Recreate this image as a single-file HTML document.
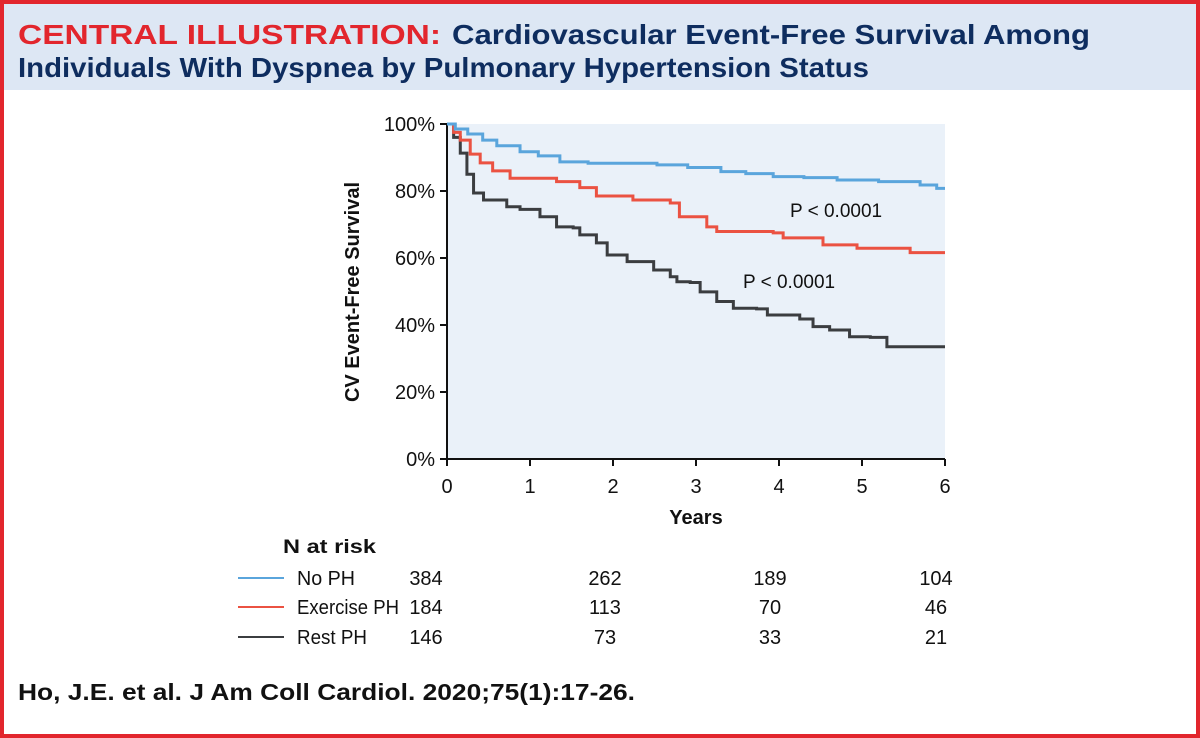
<!DOCTYPE html>
<html><head><meta charset="utf-8"><style>
html,body{margin:0;padding:0;background:#fff;}
svg{display:block;font-family:"Liberation Sans",sans-serif;}
</style></head><body>
<svg id="chart" width="1200" height="738" viewBox="0 0 1200 738">
<rect x="0" y="0" width="1200" height="738" fill="#fff"/>
<rect x="2" y="2" width="1196" height="88" fill="#dde7f4"/>
<rect x="2" y="2" width="1196" height="734" fill="none" stroke="#e2262d" stroke-width="4"/>
<text x="18" y="44" font-size="28" font-weight="bold" fill="#e2262d" textLength="423" lengthAdjust="spacingAndGlyphs">CENTRAL ILLUSTRATION:</text>
<text x="452" y="44" font-size="28" font-weight="bold" fill="#0e2d5f" textLength="638" lengthAdjust="spacingAndGlyphs">Cardiovascular Event-Free Survival Among</text>
<text x="18" y="77" font-size="28" font-weight="bold" fill="#0e2d5f" textLength="851" lengthAdjust="spacingAndGlyphs">Individuals With Dyspnea by Pulmonary Hypertension Status</text>
<rect x="447" y="124" width="498" height="335" fill="#eaf1f9"/>
<g id="axes"></g>
<g id="series"></g>
<text x="790" y="217" font-size="19" fill="#111">P &lt; 0.0001</text>
<text x="743" y="288" font-size="19" fill="#111">P &lt; 0.0001</text>
<text x="696" y="524" font-size="20" font-weight="bold" text-anchor="middle" fill="#111">Years</text>
<text transform="translate(359,292) rotate(-90)" font-size="20" font-weight="bold" text-anchor="middle" fill="#111">CV Event-Free Survival</text>
<text x="283" y="553" font-size="19" font-weight="bold" fill="#111" textLength="93" lengthAdjust="spacingAndGlyphs">N at risk</text>
<g id="risk"></g>
<text x="18" y="700" font-size="23" font-weight="bold" fill="#111" textLength="617" lengthAdjust="spacingAndGlyphs">Ho, J.E. et al. J Am Coll Cardiol. 2020;75(1):17-26.</text>
</svg>
<script>
const yTicks = [0, 20, 40, 60, 80, 100];
const xTicks = [0, 1, 2, 3, 4, 5, 6];
const seriesNames = ["No PH", "Exercise PH", "Rest PH"];
const seriesColors = ["#5aa5dc", "#eb5242", "#3b3d40"];
const noPhT = [0, 0.1, 0.25, 0.43, 0.6, 0.88, 1.1, 1.36, 1.7, 2.53, 2.9, 3.3, 3.6, 3.93, 4.3, 4.7, 5.2, 5.7, 5.9, 6];
const noPhS = [100, 98.5, 97, 95.2, 93.5, 91.7, 90.5, 88.7, 88.3, 87.8, 87, 85.8, 85.2, 84.3, 84, 83.3, 82.8, 81.8, 80.8, 80.8];
const exT = [0, 0.08, 0.16, 0.28, 0.4, 0.55, 0.76, 1.32, 1.6, 1.8, 2.24, 2.69, 2.8, 3.13, 3.25, 3.93, 4.05, 4.53, 4.94, 5.58, 6];
const exS = [100, 97.5, 95.2, 91, 88.4, 86, 83.8, 82.8, 81, 78.5, 77.3, 76.4, 72.3, 69.3, 67.9, 67.5, 66, 63.9, 62.9, 61.6, 61.6];
const restT = [0, 0.08, 0.16, 0.24, 0.32, 0.44, 0.72, 0.88, 1.12, 1.32, 1.52, 1.6, 1.8, 1.93, 2.17, 2.49, 2.69, 2.77, 2.93, 3.05, 3.25, 3.45, 3.73, 3.86, 4.25, 4.41, 4.61, 4.85, 5.1, 5.3, 6];
const restS = [100, 96, 91.3, 85, 79.4, 77.3, 75.3, 74.5, 72.3, 69.3, 69, 66.9, 64.5, 60.9, 58.9, 56.4, 54.4, 52.9, 52.7, 49.9, 47, 45, 44.8, 43, 41.8, 39.5, 38.5, 36.5, 36.3, 33.5, 33.5];
const riskYears = [0, 2, 4, 6];
const riskNoPh = [384, 262, 189, 104];
const riskEx = [184, 113, 70, 46];
const riskRest = [146, 73, 33, 21];

const NS = "http://www.w3.org/2000/svg";
const X0 = 447, X1 = 945, Y0 = 459, Y1 = 124;
function xs(t){ return X0 + (t / 6) * (X1 - X0); }
function ys(v){ return Y0 - (v / 100) * (Y0 - Y1); }
function mk(tag, attrs, parent){ const e = document.createElementNS(NS, tag); for (const k in attrs) e.setAttribute(k, attrs[k]); parent.appendChild(e); return e; }

const axes = document.getElementById("axes");
const yAxis = mk("line", {x1: X0, y1: Y1 - 1, x2: X0, y2: Y0 + 1, stroke: "#111", "stroke-width": 2}, axes);


const xAxis = mk("line", {x1: X0 - 1, y1: Y0, x2: X1, y2: Y0, stroke: "#111", "stroke-width": 2}, axes);


yTicks.forEach(v => {
  const tk = mk("line", {x1: X0 - 7, y1: ys(v), x2: X0, y2: ys(v), stroke: "#111", "stroke-width": 2}, axes);
  
  
  const lb = mk("text", {x: X0 - 12, y: ys(v) + 7, "font-size": 20, "text-anchor": "end", fill: "#111"}, axes);
  lb.textContent = v + "%";
  
  
});
xTicks.forEach(t => {
  const tk = mk("line", {x1: xs(t), y1: Y0, x2: xs(t), y2: Y0 + 7, stroke: "#111", "stroke-width": 2}, axes);
  
  
  const lb = mk("text", {x: xs(t), y: Y0 + 34, "font-size": 20, "text-anchor": "middle", fill: "#111"}, axes);
  lb.textContent = t;
  
  
});

const series = document.getElementById("series");
const allT = [noPhT, exT, restT], allS = [noPhS, exS, restS];
const lineNames = ["no-ph-curve", "exercise-ph-curve", "rest-ph-curve"];
for (let i = 2; i >= 0; i--) {
  const T = allT[i], S = allS[i];
  let d = "M" + xs(T[0]) + "," + ys(S[0]);
  for (let j = 1; j < T.length; j++) {
    d += " L" + xs(T[j]) + "," + ys(S[j - 1]) + " L" + xs(T[j]) + "," + ys(S[j]);
  }
  const p = mk("path", {d: d, fill: "none", stroke: seriesColors[i], "stroke-width": 3}, series);
  
  
}

const risk = document.getElementById("risk");
const riskRows = [riskNoPh, riskEx, riskRest];
const rowY = [585, 614, 644];
const numX = [426, 605, 770, 936];
const labelW = [58, 102, 70];
riskRows.forEach((row, i) => {
  const ln = mk("line", {x1: 238, y1: rowY[i] - 7, x2: 284, y2: rowY[i] - 7, stroke: seriesColors[i], "stroke-width": 2}, risk);
  
  
  const lb = mk("text", {x: 297, y: rowY[i], "font-size": 20, fill: "#111", textLength: labelW[i], lengthAdjust: "spacingAndGlyphs"}, risk);
  lb.textContent = seriesNames[i];
  
  
  row.forEach((n, k) => {
    const tx = mk("text", {x: numX[k], y: rowY[i], "font-size": 20, "text-anchor": "middle", fill: "#111"}, risk);
    tx.textContent = n;
    
    
  });
});
</script>
</body></html>
